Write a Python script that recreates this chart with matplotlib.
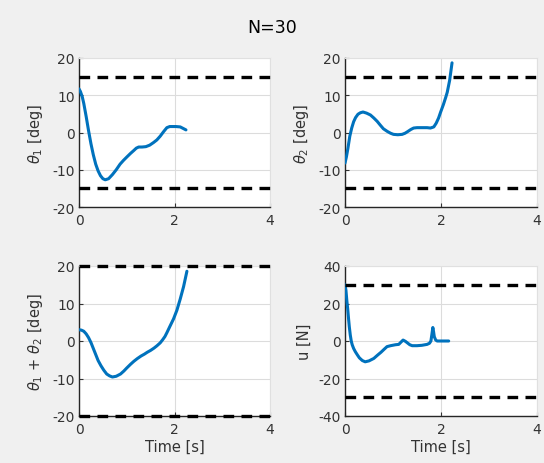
import matplotlib
matplotlib.use("Agg")
import matplotlib.pyplot as plt
import numpy as np

plt.rcParams['axes.unicode_minus'] = False

t1 = [0, 0.03, 0.07, 0.1, 0.15, 0.2, 0.25, 0.3, 0.35, 0.4, 0.45, 0.5, 0.55, 0.62, 0.7, 0.78, 0.86, 0.93, 1.0, 1.08, 1.15, 1.2, 1.25, 1.32, 1.4, 1.48, 1.56, 1.63, 1.7, 1.77, 1.84, 1.9, 1.95, 2.03, 2.12, 2.18, 2.24]
theta1 = [11.7, 11.0, 9.5, 7.8, 4.3, 0.5, -3.0, -6.0, -8.5, -10.3, -11.6, -12.4, -12.7, -12.4, -11.3, -10.0, -8.5, -7.5, -6.6, -5.6, -4.8, -4.2, -3.9, -3.9, -3.8, -3.4, -2.7, -2.0, -1.0, 0.2, 1.3, 1.6, 1.6, 1.6, 1.5, 1.1, 0.7]

t2 = [0, 0.03, 0.06, 0.1, 0.14, 0.18, 0.22, 0.27, 0.32, 0.375, 0.45, 0.53, 0.6, 0.67, 0.74, 0.8, 0.88, 0.95, 1.01, 1.1, 1.19, 1.25, 1.3, 1.37, 1.43, 1.5, 1.6, 1.71, 1.78, 1.85, 1.9, 1.95, 1.99, 2.05, 2.1, 2.13, 2.18, 2.23]
theta2 = [-8.2, -6.5, -4.3, -1.0, 1.2, 2.9, 4.0, 4.9, 5.3, 5.5, 5.2, 4.7, 3.9, 3.0, 1.9, 1.0, 0.3, -0.2, -0.5, -0.6, -0.5, -0.2, 0.2, 0.8, 1.2, 1.3, 1.3, 1.3, 1.2, 1.5, 2.5, 3.9, 5.4, 7.5, 9.5, 10.8, 14.0, 18.7]

t3 = [0, 0.05, 0.1, 0.15, 0.2, 0.25, 0.3, 0.35, 0.4, 0.46, 0.52, 0.58, 0.64, 0.7, 0.78, 0.87, 0.94, 1.0, 1.08, 1.15, 1.22, 1.3, 1.37, 1.43, 1.5, 1.57, 1.63, 1.7, 1.75, 1.8, 1.84, 1.9, 1.98, 2.05, 2.12, 2.19, 2.26]
theta12 = [3.0, 2.9, 2.6, 1.9, 0.9, -0.4, -2.0, -3.6, -5.2, -6.6, -7.8, -8.8, -9.3, -9.6, -9.4, -8.8, -8.0, -7.2, -6.2, -5.4, -4.7, -4.0, -3.5, -3.0, -2.5, -1.9, -1.3, -0.5, 0.3, 1.2, 2.2, 3.8, 5.9, 8.2, 11.2, 14.5, 18.6]

t4 = [0, 0.02, 0.04, 0.055, 0.07, 0.09, 0.11, 0.13, 0.15, 0.18, 0.215, 0.26, 0.3, 0.36, 0.42, 0.5, 0.6, 0.68, 0.75, 0.82, 0.875, 0.95, 1.05, 1.12, 1.17, 1.21, 1.26, 1.3, 1.35, 1.4, 1.5, 1.6, 1.71, 1.76, 1.79, 1.81, 1.83, 1.845, 1.86, 1.89, 1.92, 2.0, 2.16]
u = [30, 27, 21, 17.5, 13, 7.5, 3.2, 0, -2, -4, -5.7, -7.5, -9, -10.4, -11.1, -10.6, -9.3, -7.5, -6.0, -4.3, -3.0, -2.5, -2.0, -1.8, -0.5, 0.5, -0.2, -1.0, -2.0, -2.5, -2.5, -2.3, -1.8, -1.2, 0.0, 3.5, 7.2, 5.0, 2.3, 0.5, 0.0, 0.0, 0.0]

limits = [15, 15, 20, 30]
ylims = [(-20, 20), (-20, 20), (-20, 20), (-40, 40)]
yticks = [[-20, -10, 0, 10, 20], [-20, -10, 0, 10, 20], [-20, -10, 0, 10, 20], [-40, -20, 0, 20, 40]]
xticks = [0, 2, 4]
ylabels = [r'$\theta_1$ [deg]', r'$\theta_2$ [deg]', r'$\theta_1$ + $\theta_2$ [deg]', 'u [N]']
series = [(t1, theta1), (t2, theta2), (t3, theta12), (t4, u)]

fig = plt.figure(figsize=(5.44, 4.64), dpi=100, facecolor='#f0f0f0')
W, H = 544, 464
boxes = [(79, 59, 270, 208), (345, 59, 537, 208), (79, 267, 270, 417), (345, 267, 537, 417)]
txt = '#333333'
for i, (l, tp, r, b) in enumerate(boxes):
    ax = fig.add_axes([l / W, 1 - b / H, (r - l) / W, (b - tp) / H])
    ax.set_facecolor('white')
    x, y = series[i]
    ax.plot(x, y, color='#0072BD', lw=2.2, zorder=3, solid_capstyle='round')
    for sgn in (1, -1):
        ax.axhline(sgn * limits[i], color='black', lw=2.4, dashes=(3.2, 2.2), zorder=4, clip_on=False)
    ax.set_xlim(0, 4)
    ax.set_ylim(*ylims[i])
    ax.set_xticks(xticks)
    ax.set_yticks(yticks[i])
    ax.grid(True, color='#dcdcdc', lw=0.8, zorder=0)
    ax.set_axisbelow(True)
    for s in ['top', 'right']:
        ax.spines[s].set_color('#e0e0e0')
        ax.spines[s].set_linewidth(0.8)
    for s in ['left', 'bottom']:
        ax.spines[s].set_color('#262626')
        ax.spines[s].set_linewidth(1.0)
    ax.tick_params(labelsize=10, colors=txt, length=3, direction='in', pad=3)
    ax.tick_params(axis='x', pad=4)
    ax.set_ylabel(ylabels[i], fontsize=10.5, color=txt, labelpad=5)
    if i >= 2:
        ax.set_xlabel('Time [s]', fontsize=10.5, color=txt, labelpad=2)

fig.text(0.5, 1 - 28 / H, 'N=30', ha='center', va='center', fontsize=12.5, color='black')
fig.savefig('out.png', dpi=100, facecolor=fig.get_facecolor())
